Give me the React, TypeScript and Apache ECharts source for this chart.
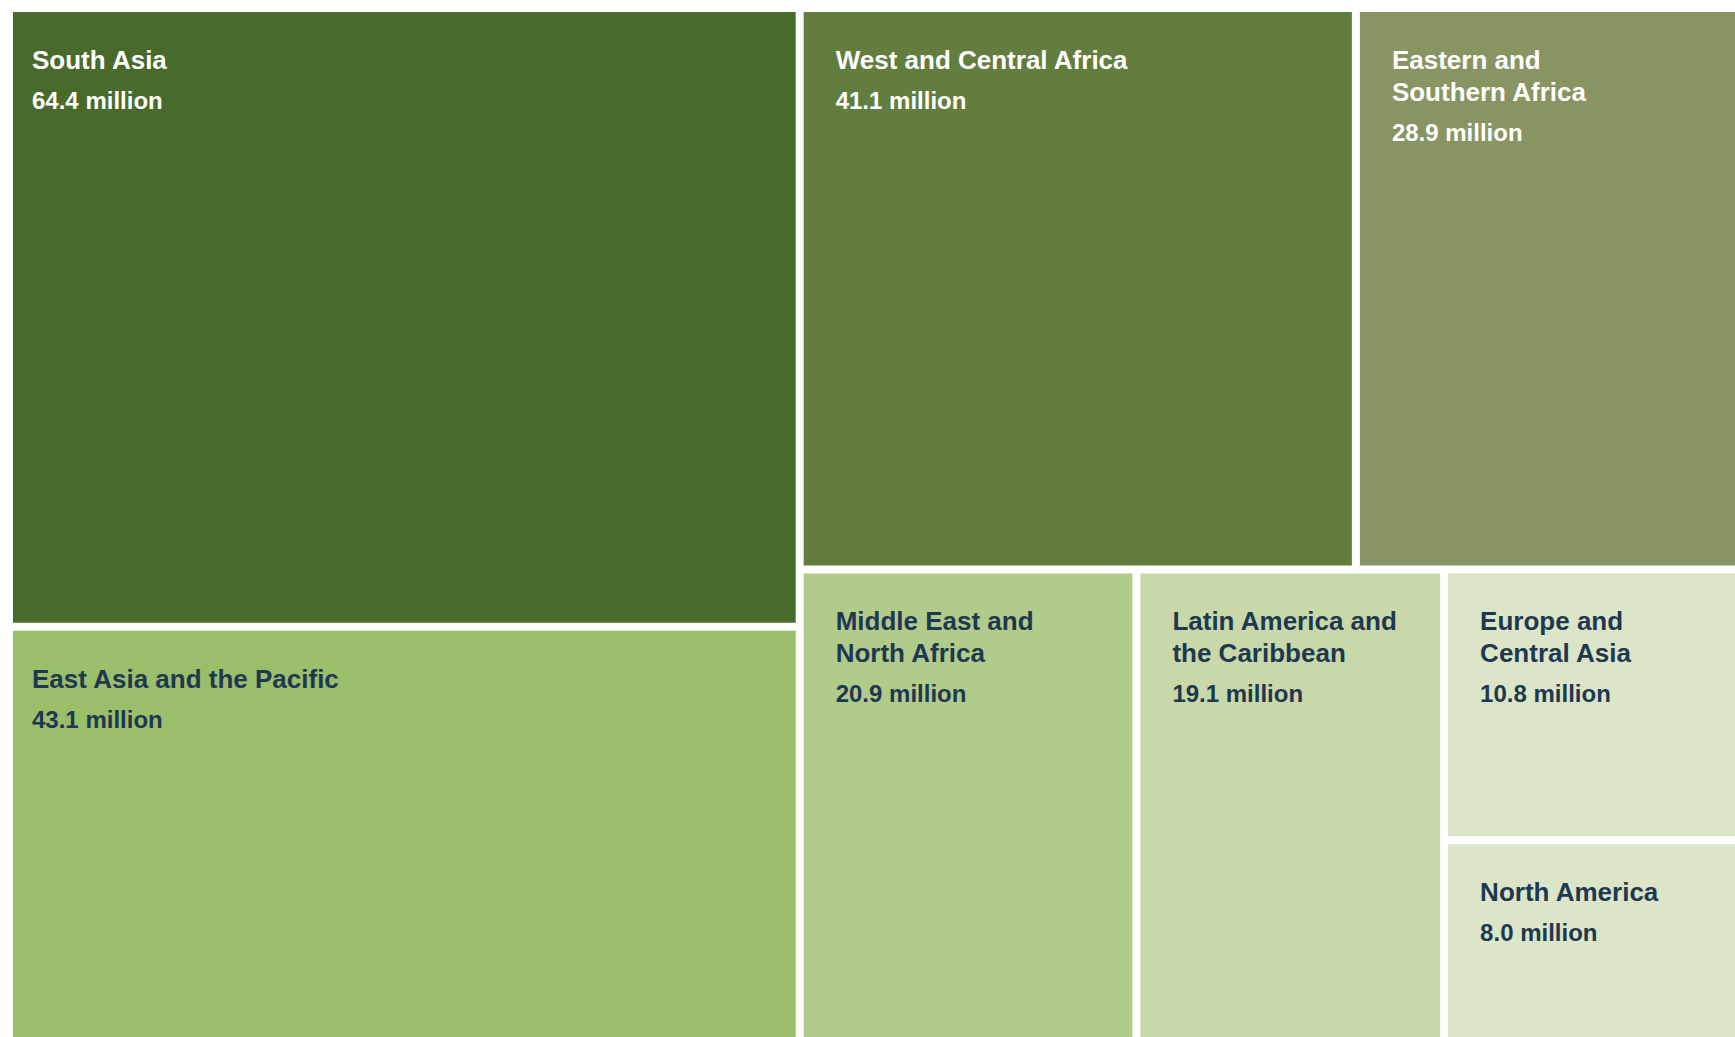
import React, { useEffect, useRef } from "react";
import * as echarts from "echarts";

// ---- Data ----
const regions = [
  "South Asia",
  "East Asia and the Pacific",
  "West and Central Africa",
  "Eastern and Southern Africa",
  "Middle East and North Africa",
  "Latin America and the Caribbean",
  "Europe and Central Asia",
  "North America",
];
const valuesMillions = [64.4, 43.1, 41.1, 28.9, 20.9, 19.1, 10.8, 8.0];
const labelLines = [
  ["South Asia"],
  ["East Asia and the Pacific"],
  ["West and Central Africa"],
  ["Eastern and", "Southern Africa"],
  ["Middle East and", "North Africa"],
  ["Latin America and", "the Caribbean"],
  ["Europe and", "Central Asia"],
  ["North America"],
];
const tileColors = [
  "#486b2c",
  "#9bbe6a",
  "#637d3f",
  "#889563",
  "#b1cb8b",
  "#c8d8a9",
  "#dbe5c7",
  "#dbe5c7",
];
const labelColors = [
  "#ffffff",
  "#1f3850",
  "#ffffff",
  "#ffffff",
  "#1f3850",
  "#1f3850",
  "#1f3850",
  "#1f3850",
];
const valueSuffix = " million";

const FONT = "'Liberation Sans', Arial, Helvetica, sans-serif";
const narrowPadRegions = new Set(["South Asia", "East Asia and the Pacific"]);

export default function App() {
  const ref = useRef<HTMLDivElement | null>(null);

  useEffect(() => {
    document.body.style.margin = "0";
    const el = ref.current;
    if (!el) return;
    const chart = echarts.init(el, undefined, { renderer: "svg" });

    const data = regions.map((name, i) => {
      const lines = labelLines[i];
      const text =
        lines.map((l) => `{t|${l}}`).join("\n") +
        `\n{v|${valuesMillions[i].toFixed(1)}${valueSuffix}}`;
      return {
        name,
        value: valuesMillions[i],
        itemStyle: { color: tileColors[i], borderWidth: 0 },
        label: {
          show: true,
          position: "insideTopLeft",
          distance: 0,
          padding: [32, 0, 0, narrowPadRegions.has(name) ? 19 : 32],
          overflow: "none",
          formatter: () => text,
          rich: {
            t: {
              fontFamily: FONT,
              fontSize: 26,
              fontWeight: "bold",
              lineHeight: 32,
              color: labelColors[i],
            },
            v: {
              fontFamily: FONT,
              fontSize: 24,
              fontWeight: "bold",
              lineHeight: 49,
              color: labelColors[i],
            },
          },
        },
      };
    });

    chart.setOption({
      animation: false,
      backgroundColor: "#ffffff",
      tooltip: { show: false },
      series: [
        {
          type: "treemap",
          left: 13,
          top: 12,
          width: 1730,
          height: 1025,
          squareRatio: 1,
          sort: "desc",
          roam: false,
          nodeClick: false,
          breadcrumb: { show: false },
          upperLabel: { show: false },
          emphasis: { disabled: true },
          itemStyle: { gapWidth: 8, borderWidth: 0, borderColor: "#ffffff" },
          levels: [
            { itemStyle: { gapWidth: 8, borderWidth: 0, borderColor: "#ffffff" } },
            { itemStyle: { gapWidth: 0, borderWidth: 0 } },
          ],
          data,
        },
      ],
    });

    return () => {
      chart.dispose();
    };
  }, []);

  return (
    <div
      ref={ref}
      style={{
        position: "fixed",
        left: 0,
        top: 0,
        width: 1735,
        height: 1037,
        background: "#ffffff",
      }}
    />
  );
}
